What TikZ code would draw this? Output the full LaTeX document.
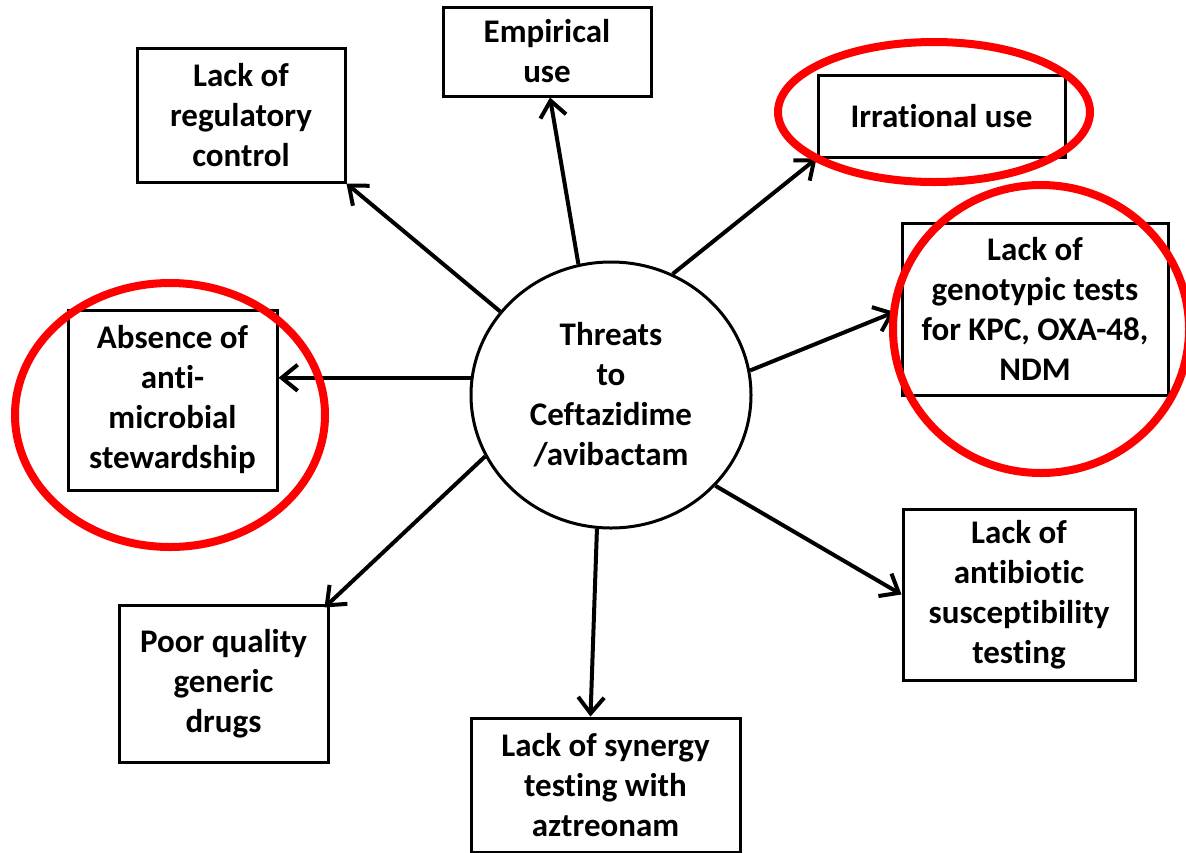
\documentclass[tikz,border=0pt]{standalone}
\usepackage{fontspec}
\setmainfont{Carlito}[RawFeature={-liga}]
\usetikzlibrary{shapes.geometric,arrows.meta,calc}
\begin{document}
\begin{tikzpicture}[x=1pt,y=-1pt,
  box/.style={draw, line width=3pt, rectangle, align=center, inner sep=0pt,
    font=\fontsize{33}{40}\selectfont\bfseries},
  hub/.style={draw, ellipse, line width=3pt, minimum width=280pt, minimum height=266pt,
    inner sep=0pt, align=center, font=\fontsize{33}{40}\selectfont\bfseries},
  arr/.style={line width=4pt, -{Straight Barb[length=16pt,width=26pt]}},
  hilite/.style={draw=red, line width=8pt}
]
\useasboundingbox[fill=white] (0,0) rectangle (1186,852);

\node[hub] (c) at (611,395) {Threats\\to\\Ceftazidime\\/avibactam};

\node[box, minimum width=208pt, minimum height=89pt] (emp) at (547,51.5) {Empirical\\use};
\node[box, minimum width=208pt, minimum height=134pt] (reg) at (241,115) {Lack of\\regulatory\\control};
\node[box, minimum width=247pt, minimum height=82pt] (irr) at (941.5,116) {Irrational use};
\node[box, minimum width=266pt, minimum height=172pt] (gen) at (1035,309) {Lack of\\genotypic tests\\for KPC, OXA-48,\\NDM};
\node[box, minimum width=209pt, minimum height=180pt] (abs) at (172.5,400) {Absence of\\anti-\\microbial\\stewardship};
\node[box, minimum width=232pt, minimum height=171pt] (sus) at (1019,594.5) {Lack of\\antibiotic\\susceptibility\\testing};
\node[box, minimum width=209pt, minimum height=157pt] (poor) at (223.5,683.5) {Poor quality\\generic\\drugs};
\node[box, minimum width=269pt, minimum height=134pt] (syn) at (605.5,785) {Lack of synergy\\testing with\\aztreonam};

\draw[arr] (c.104.7) -- ($(emp.south)+(3,0)$);
\draw[arr] (c.63) -- (irr.south west);
\draw[arr] (c.10.2) -- ($(gen.west)+(-6,3)$);
\draw[arr] (c.143.7) -- (reg.south east);
\draw[arr] (c.173.4) -- (c.173.4 -| abs.east);
\draw[arr] (c.206.6) -- ($(poor.north east)+(-5,4)$);
\draw[arr] (c.264) -- ($(syn.north)+(-15,0)$);
\draw[arr] (c.319) -- (sus.west);

\draw[hilite] (934,112) ellipse [x radius=156, y radius=70];
\draw[hilite] (1041,329) ellipse [x radius=148, y radius=144];
\draw[hilite] (170,415) ellipse [x radius=155, y radius=132];
\end{tikzpicture}
\end{document}
